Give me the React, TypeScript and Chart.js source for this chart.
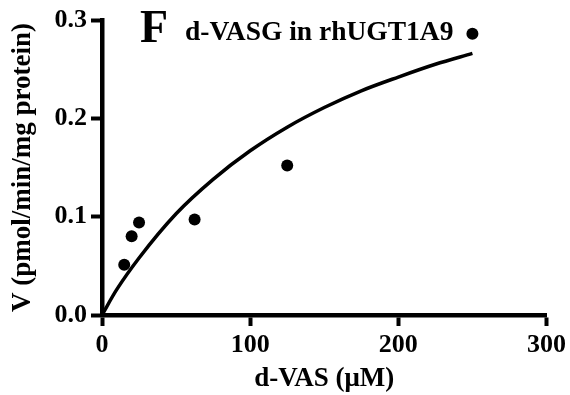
import React, { useEffect, useRef } from "react";
import { Chart, registerables } from "chart.js";

Chart.register(...registerables);

// Measured data points (substrate concentration, velocity)
const substrateUM = [15, 20, 25, 62.5, 125, 250];
const velocity = [0.051, 0.080, 0.094, 0.097, 0.152, 0.286];

// Fitted curve
const fitX = [0, 10, 25, 50, 75, 100, 125, 150, 175, 200, 225, 250];
const fitY = [0, 0.026, 0.058, 0.103, 0.138, 0.167, 0.191, 0.211, 0.228, 0.242, 0.255, 0.266];

const xTicks = [0, 100, 200, 300];
const yTicks = [0, 0.1, 0.2, 0.3];

const panelLetter = "F";
const panelTitle = "d-VASG in rhUGT1A9";
const xTitle = "d-VAS (μM)";
const yTitle = "V (pmol/min/mg protein)";

const FONT = '"Liberation Serif", "Times New Roman", serif';

const titlePlugin = {
  id: "panelTitle",
  afterDraw(chart: any) {
    const ctx = chart.ctx;
    ctx.save();
    ctx.fillStyle = "#000";
    ctx.textBaseline = "alphabetic";
    ctx.textAlign = "left";
    ctx.font = `bold 46px ${FONT}`;
    ctx.fillText(panelLetter, 140, 42);
    ctx.font = `bold 27.5px ${FONT}`;
    ctx.fillText(panelTitle, 185, 40);
    ctx.restore();
  },
};

export default function App() {
  const ref = useRef<HTMLCanvasElement | null>(null);

  useEffect(() => {
    if (!ref.current) return;
    const axisCommon = {
      grid: {
        display: true,
        drawOnChartArea: false,
        drawTicks: true,
        tickLength: 11,
        tickWidth: 4,
        tickColor: "#000",
        color: "#000",
      },
      border: { display: true, color: "#000", width: 4.5 },
    };
    const chart = new Chart(ref.current, {
      type: "scatter",
      data: {
        datasets: [
          {
            type: "line" as const,
            data: fitX.map((x, i) => ({ x, y: fitY[i] })),
            borderColor: "#000",
            borderWidth: 3.5,
            pointRadius: 0,
            cubicInterpolationMode: "monotone" as const,
            fill: false,
          },
          {
            type: "scatter" as const,
            data: substrateUM.map((x, i) => ({ x, y: velocity[i] })),
            backgroundColor: "#000",
            borderColor: "#000",
            borderWidth: 0,
            pointRadius: 6,
          },
        ],
      },
      options: {
        animation: false,
        responsive: false,
        devicePixelRatio: 1,
        layout: { padding: { top: 20, right: 22, left: 0, bottom: 0 } },
        plugins: {
          legend: { display: false },
          tooltip: { enabled: false },
          title: { display: false },
        },
        scales: {
          x: {
            type: "linear",
            min: 0,
            max: 300,
            afterBuildTicks: (s: any) => {
              s.ticks = xTicks.map((v) => ({ value: v }));
            },
            afterFit: (s: any) => {
              s.height = 80;
            },
            ticks: {
              color: "#000",
              padding: 4,
              maxRotation: 0,
              font: { family: FONT, size: 26, weight: "bold" },
              callback: (v: any) => String(v),
            },
            title: {
              display: true,
              text: xTitle,
              color: "#000",
              padding: { top: 2, bottom: 0 },
              font: { family: FONT, size: 27, weight: "bold" },
            },
            ...axisCommon,
          },
          y: {
            type: "linear",
            min: 0,
            max: 0.3,
            afterBuildTicks: (s: any) => {
              s.ticks = yTicks.map((v) => ({ value: v }));
            },
            afterFit: (s: any) => {
              s.width = 102;
            },
            ticks: {
              color: "#000",
              padding: 4,
              font: { family: FONT, size: 26, weight: "bold" },
              callback: (v: any) => Number(v).toFixed(1),
            },
            title: {
              display: true,
              text: yTitle,
              color: "#000",
              padding: { top: 7, bottom: 0 },
              font: { family: FONT, size: 27, weight: "bold" },
            },
            ...axisCommon,
          },
        },
      },
      plugins: [titlePlugin],
    } as any);
    return () => chart.destroy();
  }, []);

  return (
    <div style={{ position: "fixed", left: 0, top: 0, width: 570, height: 395, background: "#fff" }}>
      <canvas ref={ref} width={570} height={395} style={{ width: 570, height: 395 }} />
    </div>
  );
}
